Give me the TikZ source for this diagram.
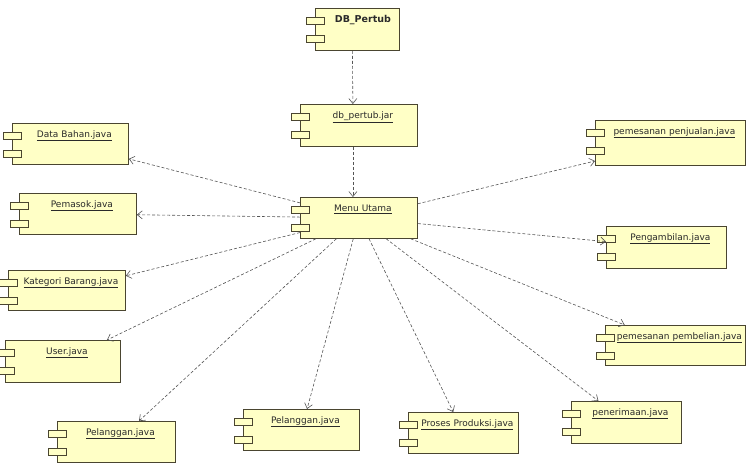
\documentclass[tikz,border=0pt]{standalone}
\usepackage{fontspec}
\newfontfamily\dvs{DejaVu Sans}
\usetikzlibrary{arrows.meta,calc}
\definecolor{compfill}{HTML}{FFFFC6}
\definecolor{compline}{HTML}{4A4530}
\definecolor{deplink}{HTML}{555555}
\definecolor{comptext}{HTML}{2A2A2A}
\tikzset{
  comp/.style={draw=compline, fill=compfill, line width=0.8pt, inner sep=0pt,
    anchor=north west, align=center, text height=14pt,
    font=\dvs\fontsize{9}{11}\selectfont, text=comptext},
  comptab/.style={draw=compline, fill=compfill, line width=0.8pt},
  dep/.style={draw=deplink, dash pattern=on 3pt off 2pt, line width=0.6pt,
    -{Straight Barb[length=5pt,width=8pt]}},
}
\newcommand{\compname}[1]{\hspace*{8pt}\underline{#1}}
\newcommand{\comp}[6]{%
  \pgfmathsetmacro\cw{#4-#2}%
  \pgfmathsetmacro\cd{#5-#3-14}%
  \node[comp, text width=\cw pt, text depth=\cd pt] (#1) at (#2,#3) {#6};
  \draw[comptab] ($(#1.north west)+(-9,9)$) rectangle ++(18,7.5);
  \draw[comptab] ($(#1.north west)+(-9,27)$) rectangle ++(18,7.5);
}
\begin{document}
\begin{tikzpicture}[x=1pt,y=-1pt]
\useasboundingbox[fill=white] (0,0) rectangle (747,466);
\comp{db}{315}{8}{399}{50}{\hspace*{11pt}{\fontsize{9.5}{11}\selectfont\bfseries DB\_Pertub}}
\comp{jar}{300}{104}{417}{146}{\compname{db\_pertub.jar}}
\comp{menu}{300}{197}{417}{238}{\compname{Menu Utama}}
\comp{databahan}{12}{123}{128}{164}{\compname{Data Bahan.java}}
\comp{pemasok}{19}{193}{136}{234}{\compname{Pemasok.java}}
\comp{kategori}{8}{270}{125}{310}{\compname{Kategori Barang.java}}
\comp{user}{5}{340}{120}{382}{\compname{User.java}}
\comp{pelangganA}{57}{421}{175}{462}{\compname{Pelanggan.java}}
\comp{pelangganB}{243}{409}{359}{450}{\compname{Pelanggan.java}}
\comp{proses}{408}{412}{518}{453}{\compname{Proses Produksi.java}}
\comp{penerimaan}{571}{401}{681}{443}{\compname{penerimaan.java}}
\comp{penjualan}{595}{120}{745}{165}{\compname{pemesanan penjualan.java}}
\comp{pengambilan}{606}{226}{726}{268}{\compname{Pengambilan.java}}
\comp{pembelian}{605}{325}{745}{365}{\compname{pemesanan pembelian.java}}

\draw[dep] ($(db.south)+(-5,0)$) -- ($(jar.north)+(-6,0)$);
\draw[dep] ($(jar.south)+(-6,0)$) -- ($(menu.north)+(-6,0)$);
\foreach \t in {databahan,pemasok,kategori,user,pelangganA,pelangganB,proses,penerimaan,penjualan,pengambilan,pembelian}
  \draw[dep] (menu) -- (\t);
\end{tikzpicture}
\end{document}
